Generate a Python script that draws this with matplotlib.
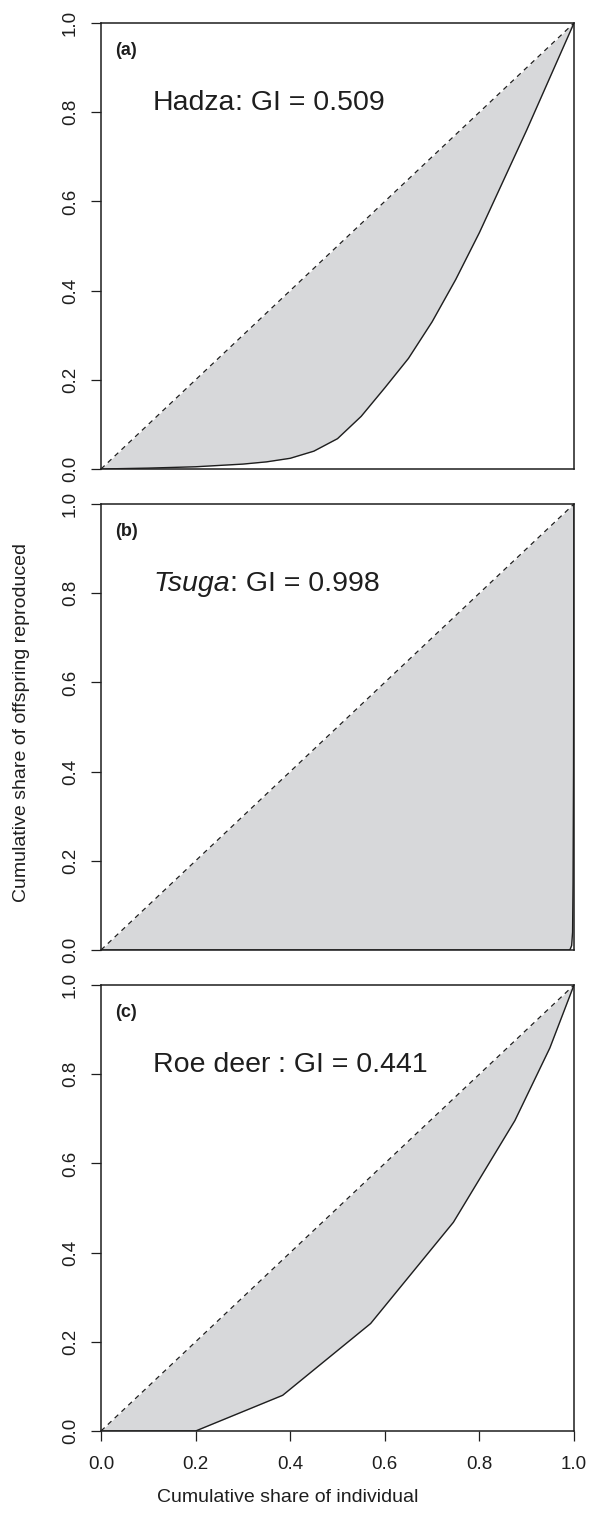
import matplotlib
matplotlib.use("Agg")
import matplotlib.pyplot as plt

plt.rcParams['font.family'] = ['Liberation Sans', 'DejaVu Sans']

# ---- data ----
ticks = [0.0, 0.2, 0.4, 0.6, 0.8, 1.0]
tick_labels = ["0.0", "0.2", "0.4", "0.6", "0.8", "1.0"]

hadza_x = [0, 0.1, 0.2, 0.25, 0.3, 0.35, 0.4, 0.45, 0.5, 0.55, 0.6, 0.65,
           0.7, 0.75, 0.8, 0.85, 0.9, 0.95, 1.0]
hadza_y = [0, 0.002, 0.005, 0.008, 0.011, 0.016, 0.024, 0.04, 0.068, 0.118,
           0.182, 0.248, 0.33, 0.425, 0.53, 0.645, 0.76, 0.88, 1.0]

tsuga_x = [0, 0.99, 0.992, 0.995, 0.997, 0.998, 0.999, 1.0]
tsuga_y = [0, 0, 0.002, 0.01, 0.04, 0.15, 0.4, 1.0]

roe_x = [0, 0.2, 0.384, 0.570, 0.745, 0.875, 0.949, 1.0]
roe_y = [0, 0, 0.08, 0.241, 0.468, 0.696, 0.859, 1.0]

panel_letters = ["(a)", "(b)", "(c)"]
species = ["Hadza", "Tsuga", "Roe deer "]
species_italic = [False, True, False]
gini = ["0.509", "0.998", "0.441"]

curves = [(hadza_x, hadza_y), (tsuga_x, tsuga_y), (roe_x, roe_y)]

# ---- figure ----
W, H = 602, 1516
fig = plt.figure(figsize=(W / 100, H / 100), dpi=100)

left, right = 101, 574
tops = [23, 504, 985]
bottoms = [469, 950, 1431]

fill_col = "#d7d8da"
ink = "#1e1e1e"

for i, ((cx, cy), top, bot) in enumerate(zip(curves, tops, bottoms)):
    ax = fig.add_axes([left / W, 1 - bot / H, (right - left) / W, (bot - top) / H])
    ax.set_xlim(0, 1)
    ax.set_ylim(0, 1)
    ax.fill_between(cx, cy, cx, color=fill_col, lw=0, zorder=1)
    ax.plot([0, 1], [0, 1], color=ink, lw=0.9, ls=(0, (4, 3.5)), zorder=2)
    ax.plot(cx, cy, color=ink, lw=1.0, zorder=3)
    for s in ax.spines.values():
        s.set_linewidth(1.1)
        s.set_color(ink)
        s.set_zorder(4)
    ax.set_yticks(ticks)
    ax.set_yticklabels(tick_labels, rotation=90, va='center', fontsize=13.5, color=ink)
    ax.tick_params(axis='y', length=7, width=0.9, pad=9, color=ink)
    if i < 2:
        ax.set_xticks([])
    else:
        ax.set_xticks(ticks)
        ax.set_xticklabels(tick_labels, fontsize=13.5, color=ink)
        ax.tick_params(axis='x', length=7, width=0.9, pad=11, color=ink)

    ax.text(0.03, 0.928, panel_letters[i], transform=ax.transAxes, fontsize=13,
            fontweight='bold', color=ink, ha='left', va='baseline')
    t1 = ax.text(0.11, 0.805, species[i], transform=ax.transAxes, fontsize=20.5,
                 style='italic' if species_italic[i] else 'normal', color=ink,
                 ha='left', va='baseline')
    ax.annotate(": GI = " + gini[i], xy=(1, 0), xycoords=t1, xytext=(0, 0),
                textcoords='offset points', fontsize=20.5, color=ink,
                ha='left', va='bottom')

fig.text(22 / W, 1 - 722 / H, "Cumulative share of offspring reproduced",
         rotation=90, ha='center', va='center', fontsize=14, color=ink)
fig.text(288 / W, 1 - 1497 / H, "Cumulative share of individual",
         ha='center', va='center', fontsize=14, color=ink)

fig.savefig("out.png", dpi=100)
